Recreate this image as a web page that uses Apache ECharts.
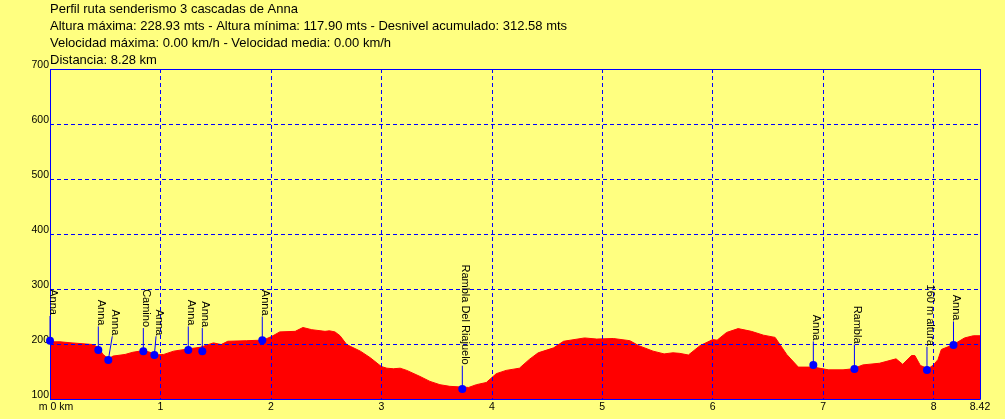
<!DOCTYPE html>
<html>
<head>
<meta charset="utf-8">
<title>Perfil ruta</title>
<style>
  html, body { margin: 0; padding: 0; background: #ffff80; }
  #chart { width: 1005px; height: 419px; }
</style>
<script src="https://cdn.jsdelivr.net/npm/echarts@6/dist/echarts.min.js"></script>
</head>
<body>
<div id="chart"></div>
<script>
const headerLines = [
    'Perfil ruta senderismo 3 cascadas de Anna',
    'Altura máxima: 228.93 mts - Altura mínima: 117.90 mts - Desnivel acumulado: 312.58 mts',
    'Velocidad máxima: 0.00 km/h - Velocidad media: 0.00 km/h',
    'Distancia: 8.28 km'
];

// km, metres
const profileKm = [
    0, 0.09, 0.1, 0.2, 0.21, 0.39, 0.44, 0.48, 0.53, 0.57, 0.68, 0.75, 0.845, 0.905, 0.95, 1.03, 1.12, 1.25, 1.36, 1.48,
    1.55, 1.61, 1.78, 1.93, 2.01, 2.08, 2.22, 2.29, 2.37, 2.49, 2.53, 2.58, 2.626, 2.686, 2.81, 2.9, 3.0, 3.05, 3.11, 3.17,
    3.23, 3.35, 3.44, 3.53, 3.62, 3.71, 3.79, 3.86, 3.95, 4.04, 4.13, 4.25, 4.34, 4.42, 4.56, 4.65, 4.84, 4.95, 5.1, 5.25,
    5.33, 5.46, 5.56, 5.64, 5.7, 5.78, 5.885, 6.0, 6.04, 6.126, 6.23, 6.35, 6.46, 6.565, 6.67, 6.775, 6.91, 7.05, 7.18, 7.27,
    7.36, 7.51, 7.66, 7.72, 7.8, 7.83, 7.88, 7.95, 8.0, 8.04, 8.07, 8.18, 8.28, 8.36, 8.42
];
const profileAlt = [
    204, 204, 202, 202, 200, 199, 193, 181, 173, 178, 181, 185, 188, 185, 180, 181, 187, 191, 194, 202,
    199, 205, 206, 207, 214, 222, 223, 230, 226, 223, 224, 222, 215, 199, 187, 175, 159, 156, 155, 156,
    152, 141, 132, 126, 123, 122, 121, 126, 130, 146, 152, 156, 172, 184, 193, 205, 211, 209, 210, 206,
    197, 187, 182, 184, 183, 180, 197, 208, 207, 221, 228, 223, 216, 212, 181, 158, 158, 153, 153, 155,
    162, 165, 173, 163, 179, 179, 161, 155, 162, 172, 190, 199, 211, 215, 215
];

const waypointNames = ['Anna', 'Anna', 'Anna', 'Camino', 'Anna', 'Anna', 'Anna', 'Anna', 'Rambla Del Riajuelo', 'Anna', 'Rambla', '160 m altura', 'Anna'];
const waypointKm = [0, 0.4375, 0.528, 0.845, 0.945, 1.252, 1.379, 1.922, 3.733, 6.911, 7.283, 7.94, 8.18];
const waypointAlt = [206, 189, 171, 187, 180, 189, 187, 207, 118, 162, 154.5, 152.7, 198];
// altitude where the leader line stops, the name starts above it
const waypointTop = [251, 232, 214, 229, 214, 232, 229, 250, 160.5, 204.7, 199, 195, 241];
// the labels that got pushed sideways have a slanted leader (km)
const waypointLean = [0, 0, 0.036, 0, 0.015, 0, 0, 0, 0, 0, 0, 0, 0];

const altTicks = { min: 100, max: 700, step: 100 };
const distTicks = { min: 0, max: 8.42, step: 1 };

const BLUE = '#0000ff';
const myChart = echarts.init(document.getElementById('chart'), null, { renderer: 'canvas' });

const profile = profileKm.map((km, i) => [km, profileAlt[i]]);
const waypoints = waypointKm.map((km, i) => [km, waypointAlt[i], waypointTop[i], waypointLean[i], waypointNames[i]]);

function renderWaypoint(params, api) {
    const p = api.coord([api.value(0), api.value(1)]);
    const top = api.coord([api.value(0) + api.value(3), api.value(2)]);
    const textX = top[0] + 3;
    return {
        type: 'group',
        children: [
            { type: 'line', shape: { x1: p[0], y1: p[1], x2: top[0], y2: top[1] }, style: { stroke: BLUE, lineWidth: 1 } },
            { type: 'circle', shape: { cx: p[0], cy: p[1], r: 4 }, style: { fill: BLUE } },
            {
                type: 'text',
                x: textX,
                y: top[1] - 1,
                rotation: -Math.PI / 2,
                style: {
                    text: api.value(4),
                    font: '11px "Liberation Sans", Arial, sans-serif',
                    fill: '#000',
                    align: 'right',
                    verticalAlign: 'middle'
                }
            }
        ]
    };
}

const option = {
    backgroundColor: '#ffff80',
    animation: false,
    textStyle: { fontFamily: '"Liberation Sans", Arial, sans-serif' },
    title: headerLines.map((line, i) => ({
        text: line,
        left: 50,
        top: 2 + i * 17,
        padding: 0,
        textStyle: { fontSize: 13, fontWeight: 'normal', color: '#000', lineHeight: 15 }
    })),
    grid: { left: 50, right: 25, top: 69, bottom: 20 },
    xAxis: {
        type: 'value',
        min: distTicks.min,
        max: distTicks.max,
        interval: distTicks.step,
        z: 3,
        axisLine: { show: false },
        axisTick: { show: false },
        axisLabel: {
            margin: 3,
            fontSize: 10.5,
            color: '#000',
            showMinLabel: true,
            showMaxLabel: true,
            formatter: v => (v === 0 ? '{first|m 0 km}' : String(v)),
            rich: { first: { fontSize: 10.5, color: '#000', padding: [0, 0, 0, 12] } }
        },
        splitLine: { show: true, lineStyle: { color: BLUE, type: [4, 3], width: 1 } }
    },
    yAxis: {
        type: 'value',
        min: altTicks.min,
        max: altTicks.max,
        interval: altTicks.step,
        z: 3,
        axisLine: { show: false },
        axisTick: { show: false },
        axisLabel: { margin: 1, fontSize: 10.5, color: '#000', verticalAlign: 'bottom', lineHeight: 7 },
        splitLine: { show: true, lineStyle: { color: BLUE, type: [4, 3], width: 1 } }
    },
    graphic: [],
    series: [
        {
            type: 'line',
            data: profile,
            showSymbol: false,
            silent: true,
            z: 2,
            lineStyle: { color: '#ff0000', width: 1 },
            areaStyle: { color: '#ff0000', opacity: 1, origin: 'start' }
        },
        {
            type: 'custom',
            data: waypoints,
            clip: false,
            silent: true,
            z: 5,
            renderItem: renderWaypoint
        }
    ]
};
myChart.setOption(option);

// plot frame on top of everything except the waypoints
const rect = myChart.getModel().getComponent('grid').coordinateSystem.getRect();
myChart.setOption({
    graphic: [{
        type: 'rect',
        z: 4,
        silent: true,
        shape: { x: rect.x + 0.5, y: rect.y + 0.5, width: rect.width, height: rect.height },
        style: { fill: null, stroke: BLUE, lineWidth: 1 }
    }]
});
</script>
</body>
</html>
